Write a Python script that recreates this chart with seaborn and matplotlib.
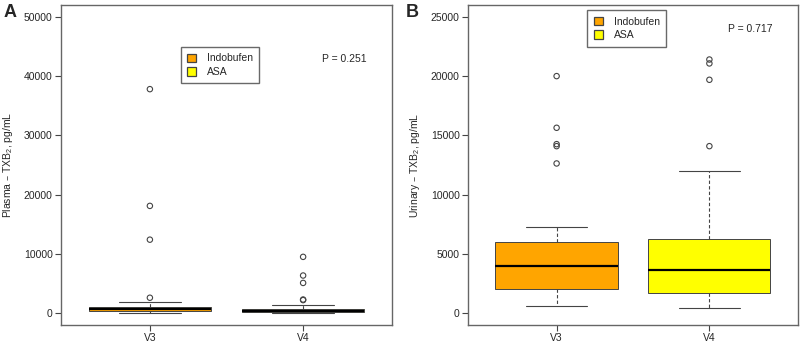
import seaborn as sns
import pandas as pd
import matplotlib.pyplot as plt

# visits and groups
visits = ["V3", "V4"]
groups = ["Indobufen", "ASA"]
box_colors = ["#FFA500", "#FFFF00"]

# panel A - plasma TXB2 (pg/mL)
plasma_whislo = [50, 40]
plasma_q1 = [330, 170]
plasma_med = [650, 420]
plasma_q3 = [1050, 700]
plasma_whishi = [1800, 1300]
plasma_out_v3 = [37800, 18100, 12400, 2600]
plasma_out_v4 = [9500, 6350, 5100, 2300, 2200]
plasma_p = "P = 0.251"

# panel B - urinary TXB2 (pg/mL)
urine_whislo = [590, 400]
urine_q1 = [2050, 1710]
urine_med = [3970, 3630]
urine_q3 = [5990, 6220]
urine_whishi = [7260, 11980]
urine_out_v3 = [20000, 15640, 14260, 14090, 12630]
urine_out_v4 = [21400, 21070, 19690, 14090]
urine_p = "P = 0.717"

sns.set_style("white")
plt.rcParams['font.family'] = ['Liberation Sans', 'DejaVu Sans']
plt.rcParams['mathtext.default'] = 'regular'

edge = "#444444"


def panel(ax, whislo, q1, med, q3, whishi, out_v3, out_v4, ymax, step,
          ylabel, ptext, p_y, letter, letter_x, leg_box):
    stats = []
    for i in range(len(visits)):
        stats.append(dict(whislo=whislo[i], q1=q1[i], med=med[i], q3=q3[i],
                          whishi=whishi[i], fliers=[]))
    bp = ax.bxp(stats, positions=[1, 2], widths=0.8, patch_artist=True,
                showfliers=False,
                boxprops=dict(edgecolor=edge, linewidth=0.7),
                medianprops=dict(color="black", linewidth=1.6),
                whiskerprops=dict(color=edge, linewidth=0.8, linestyle=(0, (3, 2))),
                capprops=dict(color=edge, linewidth=0.8), capwidths=0.4)
    for patch, c in zip(bp["boxes"], box_colors):
        patch.set_facecolor(c)

    out = pd.DataFrame({
        "pos": [1] * len(out_v3) + [2] * len(out_v4),
        "val": out_v3 + out_v4,
    })
    sns.scatterplot(data=out, x="pos", y="val", ax=ax, marker="o", s=15,
                    facecolor="none", edgecolor=edge, linewidth=0.8, legend=False)

    ax.set_xlim(0.42, 2.58)
    ax.set_ylim(-ymax * 0.04, ymax * 1.04)
    ax.set_xticks([1, 2])
    ax.set_xticklabels(visits)
    ax.set_yticks(range(0, ymax + 1, step))
    ax.set_xlabel("")
    ax.set_ylabel(ylabel, fontsize=7.5, labelpad=6)
    ax.tick_params(axis="both", labelsize=7.5, direction="out", length=4,
                   width=0.8, color=edge, left=True, bottom=True, pad=2)
    for s in ax.spines.values():
        s.set_color("#666666")
        s.set_linewidth(1.0)

    handles = [plt.Rectangle((0, 0), 1, 1, facecolor=c, edgecolor=edge, linewidth=0.9)
               for c in box_colors]
    leg = ax.legend(handles, groups, loc="upper left", bbox_to_anchor=leg_box,
                    fontsize=7.5, frameon=True, fancybox=False, handlelength=0.9,
                    handleheight=0.9, handletextpad=1.0, borderpad=0.6,
                    labelspacing=0.35, borderaxespad=0)
    leg.get_frame().set_edgecolor("#444444")
    leg.get_frame().set_linewidth(1.0)

    ax.text(0.922, p_y, ptext, transform=ax.transAxes, ha="right", va="center",
            fontsize=7.5)
    ax.text(letter_x, 0.977, letter, transform=ax.transAxes, ha="center",
            va="center", fontsize=13, fontweight="bold")


fig = plt.figure(figsize=(8.03, 3.46), dpi=100)
ax1 = fig.add_axes([61 / 803, 21 / 346, 331 / 803, 320 / 346])
ax2 = fig.add_axes([468 / 803, 21 / 346, 330 / 803, 320 / 346])

panel(ax1, plasma_whislo, plasma_q1, plasma_med, plasma_q3, plasma_whishi,
      plasma_out_v3, plasma_out_v4, 50000, 10000,
      "Plasma – TXB$_2$, pg/mL", plasma_p, 0.831, "A", -0.155, (0.362, 0.868))
panel(ax2, urine_whislo, urine_q1, urine_med, urine_q3, urine_whishi,
      urine_out_v3, urine_out_v4, 25000, 5000,
      "Urinary – TXB$_2$, pg/mL", urine_p, 0.924, "B", -0.168, (0.362, 0.983))

fig.savefig("out.png", dpi=100)
